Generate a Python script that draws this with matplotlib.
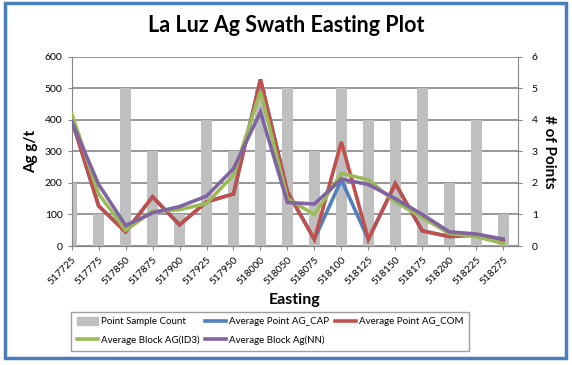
import matplotlib.pyplot as plt
from matplotlib.patches import Rectangle, Patch
from matplotlib.lines import Line2D

plt.rcParams['font.family'] = ['Lato', 'DejaVu Sans']

easting = ['517725', '517775', '517850', '517875', '517900', '517925', '517950', '518000', '518050',
           '518075', '518100', '518125', '518150', '518175', '518200', '518225', '518275']
point_count = [2, 1, 5, 3, 1, 4, 3, 5, 5, 3, 5, 4, 4, 5, 2, 4, 1]
ag_cap = [400, 127, 45, 156, 67, 140, 165, 528, 172, 21, 210, 21, 198, 48, 30, 35, 15]
ag_com = [400, 127, 45, 156, 67, 140, 165, 528, 172, 21, 330, 21, 198, 48, 30, 35, 15]
block_id3 = [420, 165, 50, 110, 115, 135, 225, 490, 150, 100, 230, 210, 140, 90, 40, 30, 8]
block_nn = [395, 195, 65, 105, 125, 158, 245, 425, 138, 133, 212, 195, 150, 100, 45, 38, 22]

x = list(range(len(easting)))

fig = plt.figure(figsize=(5.72, 3.65), dpi=100)
ax = fig.add_axes([0.1253, 0.326, 0.9056 - 0.1253, 0.8447 - 0.326])

# bars on the base axes (right scale), lines on a twin (left scale)
ax.bar(x, point_count, width=0.42, color='#BFBFBF', zorder=2)
ax.set_ylim(0, 6)
ax.set_yticks(range(0, 7))
ax.grid(axis='y', color='#868686', linewidth=1.2, zorder=0)
ax.set_axisbelow(True)

ax2 = ax.twinx()
lw = 2.6
ax2.plot(x, ag_cap, color='#4F81BD', linewidth=lw, solid_joinstyle='miter')
ax2.plot(x, ag_com, color='#C0504D', linewidth=lw, solid_joinstyle='miter')
ax2.plot(x, block_id3, color='#9BBB59', linewidth=lw, solid_joinstyle='miter')
ax2.plot(x, block_nn, color='#8064A2', linewidth=lw, solid_joinstyle='miter')
ax2.set_ylim(0, 600)
ax2.set_yticks(range(0, 700, 100))

# swap sides: g/t scale on the left, counts on the right
ax.yaxis.tick_right()
ax.yaxis.set_label_position('right')
ax2.yaxis.tick_left()
ax2.yaxis.set_label_position('left')
ax.set_ylabel('# of Points', fontsize=11, fontweight='bold', rotation=270, labelpad=13)
ax2.set_ylabel('Ag g/t', fontsize=11, fontweight='bold', labelpad=5)

ax.set_xlim(0, 16.55)
ax.set_xticks(x)
ax.set_xticklabels(easting, rotation=45, ha='right', rotation_mode='anchor', fontsize=7.3)
ax.set_xlabel('Easting', fontsize=11.5, fontweight='bold', labelpad=5)

for a in (ax, ax2):
    a.tick_params(axis='y', labelsize=7.5, length=3, color='#868686')
    a.tick_params(axis='x', length=3, color='#868686')
    for s in a.spines.values():
        s.set_color('#868686')
    a.spines['top'].set_visible(False)
ax.tick_params(axis='y', pad=7)
ax2.spines['left'].set_visible(False)
ax2.spines['right'].set_visible(False)

fig.text(0.5, 0.93, 'La Luz Ag Swath Easting Plot', ha='center', va='center',
         fontsize=15.5, fontweight='bold')

handles = [
    Patch(color='#BFBFBF', label='Point Sample Count'),
    Line2D([], [], color='#9BBB59', linewidth=lw, label='Average Block AG(ID3)'),
    Line2D([], [], color='#4F81BD', linewidth=lw, label='Average Point AG_CAP'),
    Line2D([], [], color='#8064A2', linewidth=lw, label='Average Block Ag(NN)'),
    Line2D([], [], color='#C0504D', linewidth=lw, label='Average Point AG_COM'),
]
leg = fig.legend(handles=handles, ncol=3, loc='center', bbox_to_anchor=(0.472, 0.093),
                 fontsize=7, frameon=True, fancybox=False, edgecolor='#868686',
                 handlelength=2.2, handleheight=0.8, columnspacing=0.6, handletextpad=0.25,
                 borderpad=0.6, labelspacing=0.9)
leg.get_frame().set_linewidth(1.0)

fig.patches.append(Rectangle((0.008, 0.018), 0.982, 0.975, transform=fig.transFigure,
                             fill=False, edgecolor='#4A7EBB', linewidth=2.5))

fig.savefig('out.png', dpi=100)
